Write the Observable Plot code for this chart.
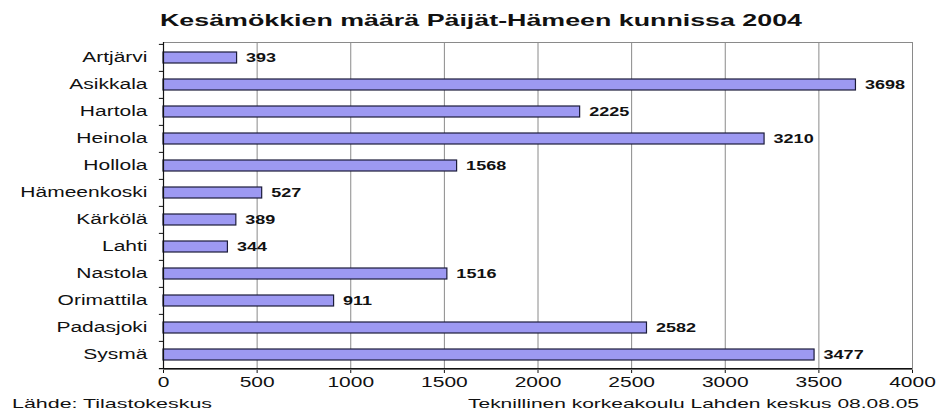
<!DOCTYPE html>
<html><head><meta charset="utf-8">
<script src="https://cdn.jsdelivr.net/npm/d3@7"></script>
<script src="https://cdn.jsdelivr.net/npm/@observablehq/plot@0.6"></script>
<style>
body{margin:0;background:#fff;width:939px;height:414px;overflow:hidden;font-family:"Liberation Sans",Arial,sans-serif;position:relative;}
#title{position:relative;height:30px;}
#title span{position:absolute;left:160px;top:11px;font-weight:bold;font-size:17px;line-height:20px;color:#111;white-space:nowrap;transform-origin:0 0;display:inline-block;}
#foot{position:relative;height:22px;font-size:13px;color:#111;}
#foot span{position:absolute;top:5px;white-space:nowrap;transform-origin:0 0;display:inline-block;line-height:16px;}
svg{display:block;}
</style></head>
<body>
<div id="title"><span id="t">Kesämökkien määrä Päijät-Hämeen kunnissa 2004</span></div>
<div id="chart"></div>
<div id="foot"><span id="fl">Lähde: Tilastokeskus</span><span id="fr">Teknillinen korkeakoulu Lahden keskus 08.08.05</span></div>
<script>
const municipalities = ["Artjärvi","Asikkala","Hartola","Heinola","Hollola","Hämeenkoski","Kärkölä","Lahti","Nastola","Orimattila","Padasjoki","Sysmä"];
const cottages = [393,3698,2225,3210,1568,527,389,344,1516,911,2582,3477];
const xTicks = [0,500,1000,1500,2000,2500,3000,3500,4000];

const data = municipalities.map((m,i)=>({m, v: cottages[i]}));
const step = (369-42)/municipalities.length;

const chart = Plot.plot({
  width: 939,
  height: 361,
  marginTop: 12,
  marginBottom: 22,
  marginLeft: 163,
  marginRight: 27,
  style: {fontFamily: '"Liberation Sans", Arial, sans-serif', fontSize: "14px", color: "#111", background: "#fff"},
  x: {domain: [0,4000], ticks: xTicks, label: null, tickSize: 4, tickPadding: 4, tickFormat: d=>String(d)},
  y: {domain: municipalities, padding: 0, label: null, tickSize: 0, tickPadding: 16},
  marks: [
    Plot.ruleX(xTicks.slice(1), {stroke: "#8a8a8a", strokeWidth: 1}),
    Plot.frame({stroke: "#8a8a8a"}),
    Plot.barX(data, {x: "v", y: "m", fill: "#9d99f2", stroke: "#1c1c3a", strokeWidth: 1.2, insetTop: 8, insetBottom: 8}),
    Plot.text(data, {x: "v", y: "m", text: d=>String(d.v), dx: 9, textAnchor: "start", fontWeight: "bold", fontSize: 12, fill: "#111"}),
    Plot.ruleY(municipalities, {y: d=>d, x1: -22, x2: 0, dy: -step/2, stroke: "#111"}),
    Plot.ruleX([0], {stroke: "#111", strokeWidth: 1.2}),
    Plot.ruleY([municipalities[municipalities.length-1]], {x1: -22, x2: 4000, dy: step/2, stroke: "#111", strokeWidth: 1.2})
  ]
});
document.getElementById("chart").appendChild(chart);

// The reference image is horizontally stretched; widen glyphs to match.
for (const t of chart.querySelectorAll("text")) {
  const L = t.getComputedTextLength();
  if (L > 0) {
    t.setAttribute("textLength", (L * 1.5).toFixed(1));
    t.setAttribute("lengthAdjust", "spacingAndGlyphs");
  }
}
function fit(id, left, right) {
  const el = document.getElementById(id);
  const w = el.getBoundingClientRect().width;
  el.style.left = left + "px";
  el.style.transform = `scaleX(${(right - left) / w})`;
}
fit("t", 160, 802);
fit("fl", 12, 212);
fit("fr", 468, 919);
</script>
</body></html>
